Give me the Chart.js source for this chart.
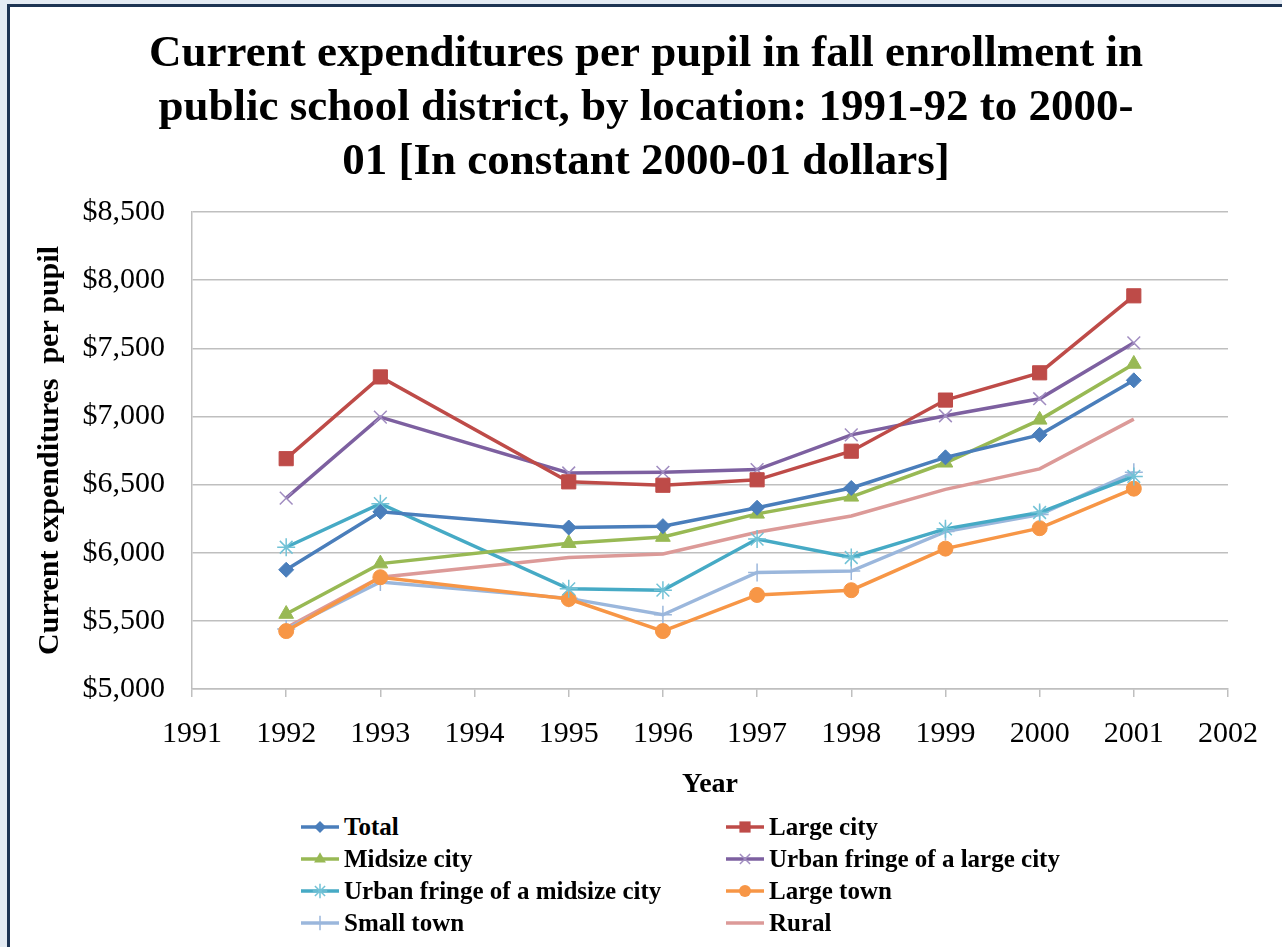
<!DOCTYPE html>
<html>
<head>
<meta charset="utf-8">
<script src="https://cdn.jsdelivr.net/npm/chart.js@4/dist/chart.umd.min.js"></script>
<style>
  body { margin: 0; background: #e4ebf3; width: 1282px; height: 947px; overflow: hidden; font-family: 'Liberation Serif', 'Times New Roman', serif; }
  #frame { position: absolute; left: 7px; top: 4px; right: 0; bottom: 0; background: #fff;
           border-left: 3px solid #1d3453; border-top: 3px solid #1d3453; }
  #wrap { position: absolute; left: 0; top: 0; width: 1272px; height: 800px; }
  #legend { position: absolute; left: 290px; top: 804px; display: grid;
            grid-template-columns: 425px auto; grid-auto-rows: 32px; }
  .item { display: flex; align-items: center; font-weight: bold; font-size: 25px; color: #000; }
  .item canvas { margin-right: 4px; }
</style>
</head>
<body>
<div id="frame">
  <div id="wrap"><canvas id="chart"></canvas></div>
  <div id="legend"></div>
</div>
<script>
// data (no survey for 1991, 1994, 2002)
const years = ['1991', '1992', '1993', '1994', '1995', '1996', '1997', '1998', '1999', '2000', '2001', '2002'];
const total           = [null, 5875, 6300, null, 6185, 6195, 6330, 6475, 6700, 6865, 7265, null];
const largeCity       = [null, 6690, 7290, null, 6520, 6495, 6535, 6745, 7120, 7320, 7885, null];
const midsizeCity     = [null, 5550, 5920, null, 6070, 6115, 6285, 6410, 6660, 6975, 7385, null];
const fringeLarge     = [null, 6400, 6995, null, 6585, 6590, 6610, 6865, 7005, 7130, 7540, null];
const fringeMidsize   = [null, 6040, 6360, null, 5735, 5725, 6100, 5965, 6175, 6295, 6560, null];
const largeTown       = [null, 5425, 5820, null, 5660, 5425, 5690, 5725, 6030, 6180, 6470, null];
const smallTown       = [null, 5440, 5785, null, 5665, 5545, 5855, 5865, 6155, 6280, 6590, null];
const rural           = [null, 5450, 5820, null, 5965, 5990, 6150, 6270, 6465, 6615, 6980, null];
const yTicks = [5000, 5500, 6000, 6500, 7000, 7500, 8000, 8500];

const serif = "'Liberation Serif', 'Times New Roman', serif";
Chart.defaults.font.family = serif;
Chart.defaults.color = '#000';

function series(label, data, color, style, radius, filled, lineColor) {
  return {
    label: label,
    data: data,
    borderColor: lineColor || color,
    backgroundColor: filled ? color : 'transparent',
    pointBackgroundColor: filled ? color : 'transparent',
    pointBorderColor: color,
    pointBorderWidth: filled ? 1 : 1.5,
    pointStyle: style,
    pointRadius: radius,
    pointHoverRadius: radius,
    borderWidth: 3.5,
    tension: 0,
    spanGaps: true
  };
}

const datasets = [
  series('Total', total, '#4a7ebb', 'rectRot', 7.5, true),
  series('Large city', largeCity, '#be4b48', 'rect', 10, true),
  series('Midsize city', midsizeCity, '#98b954', 'triangle', 8.5, true),
  series('Urban fringe of a large city', fringeLarge, '#a08cc0', 'crossRot', 9, false, '#7d60a0'),
  series('Urban fringe of a midsize city', fringeMidsize, '#72c2d6', 'star', 9, false, '#46aac5'),
  series('Large town', largeTown, '#f79646', 'circle', 7.5, true),
  series('Small town', smallTown, '#9bb7dc', 'cross', 9, false),
  series('Rural', rural, '#dc9a98', false, 0, false)
];

const chart = new Chart(document.getElementById('chart'), {
  type: 'line',
  data: { labels: years, datasets: datasets },
  options: {
    responsive: true,
    maintainAspectRatio: false,
    animation: false,
    layout: { padding: { left: 0, right: 0, top: 0, bottom: 4 } },
    plugins: {
      legend: { display: false },
      tooltip: { enabled: false },
      title: {
        display: true,
        text: ['Current expenditures per pupil in fall enrollment in',
               'public school district, by location: 1991-92 to 2000-',
               '01 [In constant 2000-01 dollars]'],
        font: { size: 45, weight: 'bold', family: serif, lineHeight: 1.2 },
        color: '#000',
        padding: { top: 20, bottom: 23 }
      }
    },
    scales: {
      x: {
        type: 'category',
        offset: false,
        grid: { display: true, drawOnChartArea: false, drawTicks: true, tickLength: 8, color: '#bfbfbf', lineWidth: 1.5 },
        border: { color: '#bfbfbf', width: 1.5 },
        ticks: { font: { size: 30, family: serif }, padding: 19, maxRotation: 0, autoSkip: false },
        title: { display: true, text: 'Year', font: { size: 28, weight: 'bold', family: serif, lineHeight: 1.0 }, padding: { top: 0, bottom: 4 } }
      },
      y: {
        min: 5000,
        max: 8500,
        afterBuildTicks: s => { s.ticks = yTicks.map(v => ({ value: v })); },
        afterFit: s => { s.width = 182; },
        grid: { color: '#bfbfbf', lineWidth: 1.5, drawTicks: false },
        border: { color: '#bfbfbf', width: 1.5 },
        ticks: {
          font: { size: 30, family: serif },
          padding: 27,
          callback: v => '$' + Number(v).toLocaleString('en-US')
        },
        title: { display: true, text: 'Current expenditures  per pupil', font: { size: 30, weight: 'bold', family: serif }, padding: { top: 22, bottom: 0 } }
      },
      yRight: {
        position: 'right',
        min: 5000,
        max: 8500,
        afterFit: s => { s.width = 54; },
        grid: { drawOnChartArea: false, drawTicks: false },
        border: { display: false },
        ticks: { display: false }
      }
    }
  }
});

// legend drawn in html, two columns like the original
function drawMarker(ctx, style, x, y, r) {
  ctx.beginPath();
  if (style === 'rectRot') {
    ctx.moveTo(x - r, y); ctx.lineTo(x, y - r); ctx.lineTo(x + r, y); ctx.lineTo(x, y + r); ctx.closePath();
    ctx.fill(); return;
  }
  if (style === 'rect') { ctx.rect(x - r * 0.7, y - r * 0.7, r * 1.4, r * 1.4); ctx.fill(); return; }
  if (style === 'triangle') {
    ctx.moveTo(x, y - r); ctx.lineTo(x + r * 0.87, y + r * 0.5); ctx.lineTo(x - r * 0.87, y + r * 0.5); ctx.closePath();
    ctx.fill(); return;
  }
  if (style === 'circle') { ctx.arc(x, y, r, 0, Math.PI * 2); ctx.fill(); return; }
  const d = r * 0.707;
  if (style === 'cross' || style === 'star') { ctx.moveTo(x - r, y); ctx.lineTo(x + r, y); ctx.moveTo(x, y - r); ctx.lineTo(x, y + r); }
  if (style === 'crossRot' || style === 'star') { ctx.moveTo(x - d, y - d); ctx.lineTo(x + d, y + d); ctx.moveTo(x - d, y + d); ctx.lineTo(x + d, y - d); }
  ctx.lineWidth = 1.5;
  ctx.stroke();
}

const legend = document.getElementById('legend');
chart.data.datasets.forEach(ds => {
  const item = document.createElement('div');
  item.className = 'item';
  const c = document.createElement('canvas');
  c.width = 40; c.height = 32;
  const ctx = c.getContext('2d');
  ctx.strokeStyle = ds.borderColor;
  ctx.lineWidth = 3.5;
  ctx.beginPath(); ctx.moveTo(1, 16); ctx.lineTo(39, 16); ctx.stroke();
  ctx.fillStyle = ds.pointBorderColor;
  ctx.strokeStyle = ds.pointBorderColor;
  if (ds.pointStyle) drawMarker(ctx, ds.pointStyle, 20, 16, ds.pointRadius * 0.8);
  const span = document.createElement('span');
  span.textContent = ds.label;
  item.appendChild(c);
  item.appendChild(span);
  legend.appendChild(item);
});
</script>
</body>
</html>
